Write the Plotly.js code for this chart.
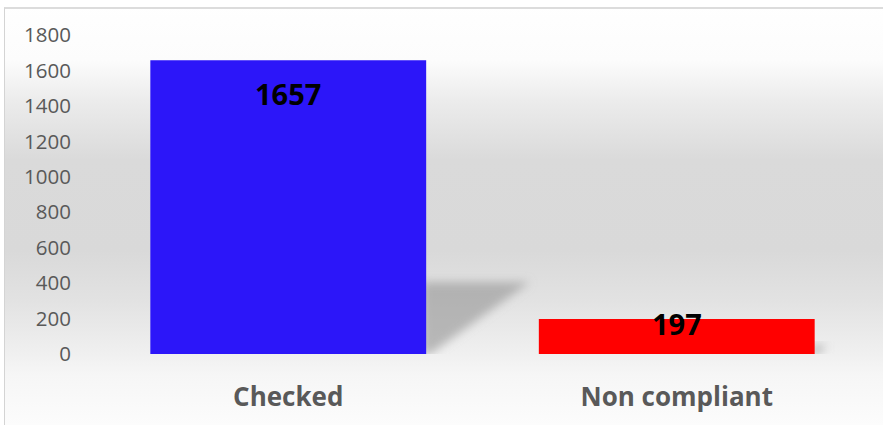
<!DOCTYPE html>
<html>
<head>
<meta charset="utf-8">
<script src="https://cdn.plot.ly/plotly-3.0.1.min.js"></script>
<style>
  html, body { margin: 0; padding: 0; background: #ffffff; }
  #wrap {
    position: relative; width: 883px; height: 425px; overflow: hidden;
    background: linear-gradient(to bottom,
      #ffffff 0px, #fcfcfc 60px, #ececec 100px, #dadada 160px,
      #d9d9d9 250px, #e2e2e2 300px, #f0f0f0 355px, #f6f6f6 375px, #fcfcfc 425px);
  }
  #frame {
    position: absolute; left: 4px; top: 7px; width: 900px; height: 440px;
    border-left: 1px solid #d4d4d4; border-top: 2px solid #dcdcdc;
    pointer-events: none; box-sizing: border-box;
  }
  #whiteTop { position:absolute; left:0; top:0; width:883px; height:7px; background:#fff; }
  #whiteLeft { position:absolute; left:0; top:0; width:4px; height:425px; background:#fff; }
  #chart { position: absolute; left: 0; top: 0; width: 883px; height: 425px; }
</style>
</head>
<body>
<div id="wrap">
  <div id="whiteTop"></div>
  <div id="whiteLeft"></div>
  <div id="chart"></div>
  <div id="frame"></div>
</div>
<script>
// ---- data ----
var categories = ["Checked", "Non compliant"];
var values = [1657, 197];
var barColors = ["#2C16F9", "#FF0000"];
var yTickValues = [0, 200, 400, 600, 800, 1000, 1200, 1400, 1600, 1800];

// ---- styling ----
var barWidth = 0.71;
var labelShift = [-12, 17];   // pixel offsets for the value labels
var shadowH = 0.245;          // shadow height relative to the bar value
var shadowW = 0.267 / 1657;   // shadow horizontal reach per unit of value (category units)

var shapes = values.map(function (v, i) {
  var xr = i + barWidth / 2;
  var top = v * shadowH;
  var dx = v * shadowW;
  return {
    type: "path", xref: "x", yref: "y", layer: "below",
    path: "M " + (xr - 0.01) + " " + top + " L " + (xr + dx) + " " + top +
          " L " + (xr + 0.01) + " 0 L " + (xr - 0.01) + " 0 Z",
    fillcolor: "rgba(150,150,150,0.62)", line: { width: 0 }
  };
});

var annotations = values.map(function (v, i) {
  return {
    x: categories[i], y: v, xref: "x", yref: "y",
    text: String(v), showarrow: false, yanchor: "top", xanchor: "center",
    yshift: labelShift[i],
    font: { family: "Open Sans, sans-serif", size: 29, weight: 700, color: "#000000" }
  };
});

var trace = {
  type: "bar", x: categories, y: values, width: barWidth,
  marker: { color: barColors, line: { width: 0 } },
  hoverinfo: "skip"
};

var layout = {
  width: 883, height: 425,
  margin: { l: 93.5, r: 11.5, t: 35, b: 71, pad: 0 },
  paper_bgcolor: "rgba(0,0,0,0)", plot_bgcolor: "rgba(0,0,0,0)",
  showlegend: false,
  xaxis: {
    type: "category", range: [-0.5, 1.5], showgrid: false, zeroline: false, showline: false,
    ticks: "", ticklabelstandoff: 25,
    tickfont: { family: "Open Sans, sans-serif", size: 26, weight: 700, color: "#595959" }
  },
  yaxis: {
    range: [0, 1800], tickmode: "array", tickvals: yTickValues,
    showgrid: false, zeroline: false, showline: false, ticks: "",
    ticklabelstandoff: 22,
    tickfont: { family: "Open Sans, sans-serif", size: 20.5, color: "#595959" }
  },
  shapes: shapes,
  annotations: annotations
};

Plotly.newPlot("chart", [trace], layout, { staticPlot: true, displayModeBar: false }).then(function (gd) {
  var svg = gd.querySelector("svg.main-svg");
  var ns = "http://www.w3.org/2000/svg";
  var defs = svg.querySelector("defs") || svg.insertBefore(document.createElementNS(ns, "defs"), svg.firstChild);
  var f = document.createElementNS(ns, "filter");
  f.setAttribute("id", "shadowBlur");
  f.setAttribute("x", "-50%"); f.setAttribute("y", "-50%");
  f.setAttribute("width", "200%"); f.setAttribute("height", "200%");
  var b = document.createElementNS(ns, "feGaussianBlur");
  b.setAttribute("stdDeviation", "5");
  f.appendChild(b); defs.appendChild(f);
  gd.querySelectorAll(".shapelayer path").forEach(function (p) {
    p.setAttribute("filter", "url(#shadowBlur)");
  });
});
</script>
</body>
</html>
